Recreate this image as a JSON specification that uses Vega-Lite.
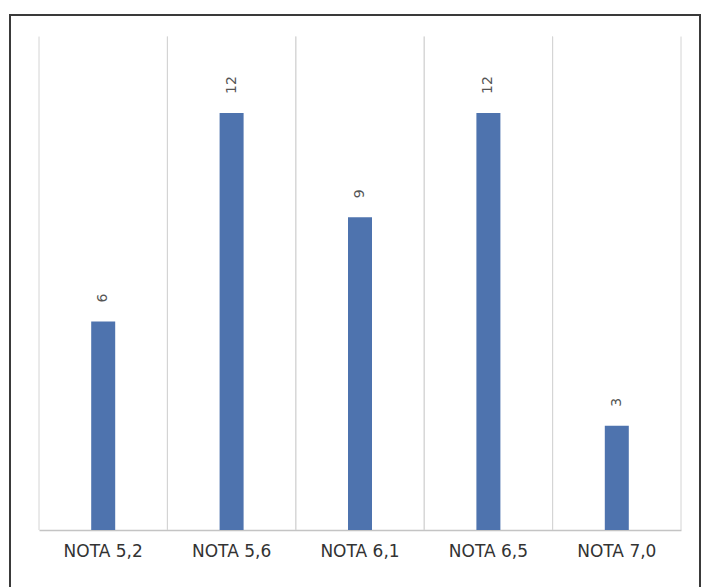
{
  "$schema": "https://vega.github.io/schema/vega-lite/v6.json",
  "width": 690,
  "height": 576,
  "autosize": "none",
  "padding": {"left": 10, "top": 15, "right": 4, "bottom": 0},
  "background": "white",
  "config": {"view": {"stroke": "#3a3a3a", "strokeWidth": 2}},
  "data": {
    "values": [
      {"cat": "NOTA 5,2", "count": 6},
      {"cat": "NOTA 5,6", "count": 12},
      {"cat": "NOTA 6,1", "count": 9},
      {"cat": "NOTA 6,5", "count": 12},
      {"cat": "NOTA 7,0", "count": 3}
    ]
  },
  "encoding": {
    "x": {
      "field": "cat",
      "type": "nominal",
      "sort": null,
      "scale": {"range": [29, 671], "paddingInner": 0, "paddingOuter": 0},
      "axis": {
        "title": null,
        "ticks": false,
        "grid": false,
        "domain": true,
        "domainColor": "#c4c4c4",
        "domainWidth": 1.5,
        "labelAngle": 0,
        "labelFont": "DejaVu Sans",
        "labelFontSize": 17,
        "labelColor": "#333333",
        "labelPadding": 13,
        "offset": -61
      }
    }
  },
  "layer": [
    {
      "mark": {"type": "rule", "color": "#d4d4d4", "strokeWidth": 1},
      "encoding": {
        "x": {"field": "cat", "type": "nominal", "sort": null, "bandPosition": 0},
        "y": {"datum": 0, "type": "quantitative", "axis": null},
        "y2": {"datum": 14.2}
      }
    },
    {
      "mark": {"type": "rule", "color": "#d4d4d4", "strokeWidth": 1},
      "encoding": {
        "x": {"field": "cat", "type": "nominal", "sort": null, "bandPosition": 1},
        "y": {"datum": 0, "type": "quantitative", "axis": null},
        "y2": {"datum": 14.2}
      }
    },
    {
      "mark": {"type": "bar", "color": "#4E73AE", "width": 24},
      "encoding": {
        "y": {
          "field": "count",
          "type": "quantitative",
          "scale": {"domain": [0, 14], "range": [515, 28.5]},
          "axis": null
        }
      }
    },
    {
      "mark": {
        "type": "text",
        "angle": 270,
        "align": "left",
        "baseline": "middle",
        "dx": 19,
        "font": "DejaVu Sans",
        "fontSize": 14,
        "color": "#555555"
      },
      "encoding": {
        "y": {"field": "count", "type": "quantitative", "axis": null},
        "text": {"field": "count", "type": "quantitative"}
      }
    }
  ]
}
